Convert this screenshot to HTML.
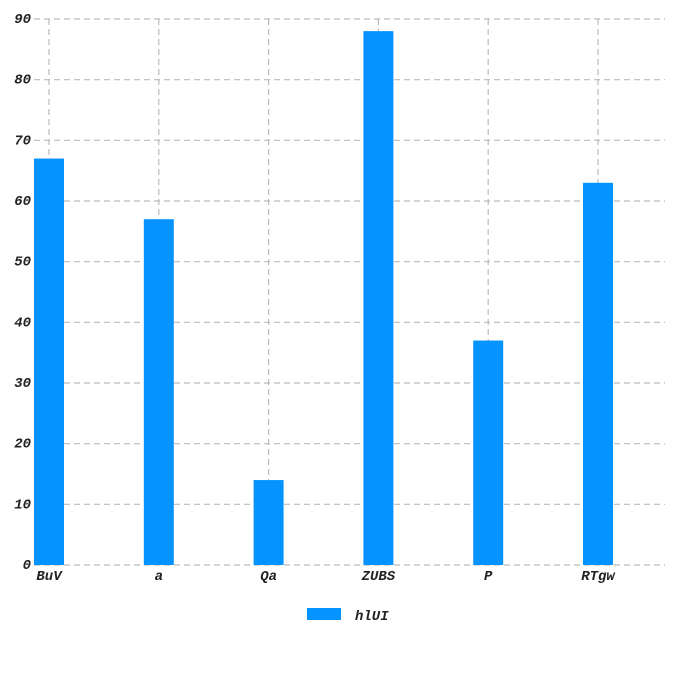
<!DOCTYPE html>
<html><head><meta charset="utf-8"><style>
body{margin:0;background:#fff}
text{font-family:"Liberation Mono",monospace;font-style:italic;font-weight:bold;font-size:14px;fill:#222}
</style></head><body>
<svg id="chart" width="680" height="680"></svg>
<script>
const categories=["BuV","a","Qa","ZUBS","P","RTgw"];
const values=[67,57,14,88,37,63];
const yTicks=[0,10,20,30,40,50,60,70,80,90];
const seriesName="hlUI";
const svgEl=document.getElementById('chart');
const NS="http://www.w3.org/2000/svg";
const plotL=34,plotR=665,plotT=19,plotB=565,yMax=90;
const step=109.8;
function xPos(i){return 49+i*step;}
function yPos(v){return plotB-(v/yMax)*(plotB-plotT);}
function mk(tag,attrs,parent){const e=document.createElementNS(NS,tag);for(const k in attrs)e.setAttribute(k,attrs[k]);(parent||svgEl).appendChild(e);return e;}
yTicks.forEach(t=>{
  const l=mk('line',{x1:plotL,x2:plotR,y1:yPos(t),y2:yPos(t),stroke:'#bbb','stroke-dasharray':'6,4','stroke-width':1.2});
  
  
  const tx=mk('text',{x:31,y:yPos(t)+4,'text-anchor':'end'});tx.textContent=t;
  
  
});
categories.forEach((c,i)=>{
  const l=mk('line',{x1:xPos(i),x2:xPos(i),y1:plotT,y2:plotB,stroke:'#bbb','stroke-dasharray':'6,4','stroke-width':1.2});
  
  
});
categories.forEach((c,i)=>{
  const r=mk('rect',{x:xPos(i)-15,y:yPos(values[i]),width:30,height:plotB-yPos(values[i]),fill:'#0593ff'});
  
  
  const tx=mk('text',{x:xPos(i),y:580,'text-anchor':'middle'});tx.textContent=c;
  
  
});
const g=mk('g',{});


mk('rect',{x:307,y:608,width:34,height:12,fill:'#0593ff'},g);
const lt=mk('text',{x:355,y:620,'font-size':'16'},g);lt.textContent=seriesName;


</script>
</body></html>
